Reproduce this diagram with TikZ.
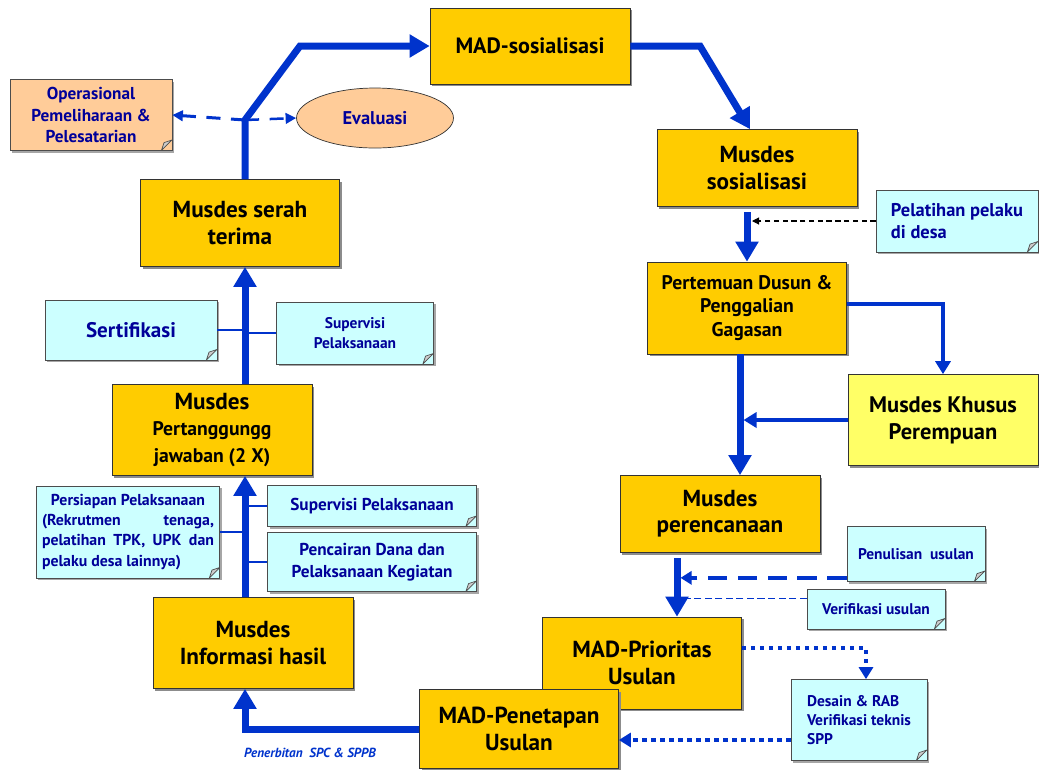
\documentclass[tikz,border=0pt]{standalone}
\usepackage{fontspec}
\setmainfont{PT Sans}
\usepackage{xcolor}
\definecolor{flowblue}{HTML}{0033CC}
\definecolor{boxgold}{HTML}{FFCC00}
\definecolor{boxlemon}{HTML}{FFFF66}
\definecolor{notecyan}{HTML}{CCFFFF}
\definecolor{notepeach}{HTML}{FFCC99}
\definecolor{notetext}{HTML}{000099}
\usepackage{tikz}
\usetikzlibrary{arrows.meta, shapes.geometric, positioning, shadows}
\hyphenpenalty=10000

\tikzset{
  mainbox/.style={draw=black!80, fill=boxgold, minimum width=4cm, minimum height=1.54cm,
    align=center, inner sep=2pt, font=\bfseries\fontsize{13.2}{15}\selectfont,
    drop shadow={shadow xshift=1.2pt, shadow yshift=-1.2pt, fill=black!45, opacity=1}},
  smalltext/.style={font=\bfseries\fontsize{11.2}{13.5}\selectfont},
  notebox/.style={draw=black!70, fill=notecyan, align=center, text=notetext,
    font=\bfseries\fontsize{8.8}{11}\selectfont,
    drop shadow={shadow xshift=1.2pt, shadow yshift=-1.2pt, fill=black!35, opacity=1},
    path picture={
      \filldraw[fill=black!20, draw=black!70, line width=0.4pt]
        ([xshift=-6pt]path picture bounding box.south east)
        -- ([yshift=6pt]path picture bounding box.south east)
        -- ([xshift=-4.5pt,yshift=4.5pt]path picture bounding box.south east) -- cycle;}},
  bignote/.style={font=\bfseries\fontsize{9.8}{12.5}\selectfont},
  flow/.style={draw=flowblue, line width=0.14cm, -{Triangle[width=0.44cm,length=0.4cm]}},
  midflow/.style={draw=flowblue, line width=0.08cm, -{Triangle[width=0.3cm,length=0.26cm]}},
  dashflow/.style={draw=flowblue, line width=0.08cm, dash pattern=on 11pt off 6pt,
    -{Triangle[width=0.26cm,length=0.22cm]}},
  dotflow/.style={draw=flowblue, line width=0.09cm, dash pattern=on 0.09cm off 0.09cm,
    -{Triangle[width=0.28cm,length=0.24cm]}},
  sidelink/.style={draw=flowblue, line width=0.03cm},
  thinlink/.style={draw=flowblue, line width=0.6pt, dash pattern=on 4pt off 2pt},
  tiplink/.style={draw=black, line width=0.6pt, dash pattern=on 3pt off 2pt,
    -{Triangle[width=4pt,length=4pt]}},
  evaldash/.style={draw=flowblue, line width=0.05cm, dash pattern=on 8pt off 6pt,
    -{Triangle[width=6pt,length=6pt]}},
}

\begin{document}
\begin{tikzpicture}[x=0.02cm, y=-0.02cm]
  \useasboundingbox (0,0) rectangle (1039,769);

  % main steps
  \node[mainbox, font=\bfseries\fontsize{12.6}{15}\selectfont, minimum height=1.52cm]
        (madsos) at (530,46) {MAD-sosialisasi};
  \node[mainbox] (msos) at (757,168) {Musdes\\sosialisasi};
  \node[mainbox, smalltext, minimum width=3.98cm, minimum height=1.84cm]
        (dusun) at (747,308) {Pertemuan Dusun \&\\Penggalian\\Gagasan};
  \node[mainbox, fill=boxlemon, minimum width=3.8cm, minimum height=1.82cm,
        font=\bfseries\fontsize{12.8}{15.5}\selectfont]
        (khusus) at (943,420) {Musdes Khusus\\Perempuan};
  \node[mainbox] (renc) at (720,514) {Musdes\\perencanaan};
  \node[mainbox, minimum width=3.98cm, minimum height=1.84cm]
        (prior) at (642,663) {MAD-Prioritas\\Usulan};
  \node[mainbox, minimum width=3.98cm, minimum height=1.58cm]
        (tetap) at (519,729) {MAD-Penetapan\\Usulan};
  \node[mainbox, minimum height=1.82cm] (info) at (253,643) {Musdes\\Informasi hasil};
  \node[mainbox, minimum height=1.82cm] (tjawab) at (212,430)
        {Musdes\\{\fontsize{11.2}{13}\selectfont Pertanggungg}\\{\fontsize{11.2}{13}\selectfont jawaban (2 X)}};
  \node[mainbox, minimum width=3.98cm, minimum height=1.74cm] (serah) at (240,223) {Musdes serah\\terima};

  % notes
  \node[notebox, bignote, fill=notepeach, minimum width=3.24cm, minimum height=1.42cm]
        (oper) at (91,115) {Operasional\\Pemeliharaan \&\\Pelesatarian};
  \node[ellipse, draw=black!80, fill=notepeach, minimum width=3.14cm, minimum height=1.2cm,
        text=notetext, font=\bfseries\fontsize{10.5}{12}\selectfont] (eval) at (375,118) {Evaluasi};
  \node[notebox, font=\bfseries\fontsize{10.5}{13}\selectfont, align=left,
        minimum width=3.24cm, minimum height=1.24cm]
        (latih) at (957,221) {Pelatihan pelaku\\di desa};
  \node[notebox, minimum width=3.44cm, minimum height=1.2cm,
        font=\bfseries\fontsize{12}{14}\selectfont] (sert) at (131,330) {Sertifikasi};
  \node[notebox, minimum width=3.14cm, minimum height=1.24cm]
        (supa) at (355,333) {Supervisi\\Pelaksanaan};
  \node[notebox, font=\bfseries\fontsize{9}{11.5}\selectfont, text width=3.44cm,
        minimum height=1.84cm, align=justify]
        (siap) at (128,532) {{\centering Persiapan Pelaksanaan\par}
        (Rekrutmen tenaga, pelatihan TPK, UPK dan pelaku desa lainnya)};
  \node[notebox, bignote, minimum width=4.18cm, minimum height=0.82cm]
        (supb) at (372,506) {Supervisi Pelaksanaan};
  \node[notebox, bignote, minimum width=4.18cm, minimum height=1.18cm]
        (cair) at (372,562) {Pencairan Dana dan\\Pelaksanaan Kegiatan};
  \node[notebox, minimum width=2.76cm, minimum height=1.1cm]
        (tulis) at (916,554) {Penulisan\ \ usulan};
  \node[notebox, minimum width=2.76cm, minimum height=0.8cm]
        (verif) at (876,609) {Verifikasi usulan};
  \node[notebox, align=left, minimum width=2.72cm, minimum height=1.62cm]
        (desain) at (859,720) {Desain \& RAB\\Verifikasi teknis\\SPP};
  \node[text=flowblue, font=\bfseries\itshape\fontsize{7.5}{9}\selectfont]
        (spc) at (310,753) {Penerbitan\ \ SPC \& SPPB};

  % spines and bends
  \coordinate (lsp) at (245,120);
  \coordinate (lknee) at (300,46);
  \coordinate (rknee) at (700,46);
  \coordinate (rsp) at (740,0);
  \coordinate (psp) at (677,0);

  % left column
  \draw[flow] (info.north -| lsp) -- (tjawab.south -| lsp);
  \draw[flow] (tjawab.north -| lsp) -- (serah.south -| lsp);
  \draw[flow] (serah.north -| lsp) -- (lsp) -- (lknee) -- (madsos.west);
  \draw[evaldash] (lsp) -- (eval.west);
  \draw[evaldash, line width=0.06cm] (lsp) -- (oper.east);
  \draw[sidelink] (sert.east) -- (sert.east -| lsp);
  \draw[sidelink] (supa.west) -- (supa.west -| lsp);
  \draw[sidelink] (siap.east) -- (siap.east -| lsp);
  \draw[sidelink] (supb.west) -- (supb.west -| lsp);
  \draw[sidelink] (cair.west) -- (cair.west -| lsp);

  % right column
  \draw[flow] (madsos.east) -- (rknee) -- ([xshift=-0.14cm]msos.north);
  \draw[flow, shorten <=3pt] (dusun.north |- msos.south) -- (dusun.north);
  \draw[tiplink, shorten >=0.1cm] (latih.west) -- (latih.west -| dusun.north);
  \draw[midflow] ([yshift=0.08cm]dusun.east) -| (khusus.north);
  \draw[flow] (dusun.south -| rsp) -- (renc.north -| rsp);
  \draw[midflow, shorten >=0.07cm] (khusus.west) -- (khusus.west -| rsp);
  \draw[flow, shorten <=3pt] (renc.south -| psp) -- (prior.north -| psp);
  \coordinate (tl) at ([yshift=0.08cm]tulis.south west);
  \draw[dashflow, shorten >=0.07cm] (tl) -- (tl -| psp);
  \coordinate (vf) at ([yshift=-0.2cm]verif.north west);
  \draw[thinlink] (vf) -- (vf -| psp);
  \draw[dotflow] ([yshift=0.3cm]prior.east) -| ([xshift=0.14cm]desain.north);
  \coordinate (ds) at ([yshift=-0.4cm]desain.west);
  \draw[dotflow] (ds) -- (ds -| tetap.east);
  \draw[flow] (tetap.west) -| (info.south -| lsp);
\end{tikzpicture}
\end{document}
